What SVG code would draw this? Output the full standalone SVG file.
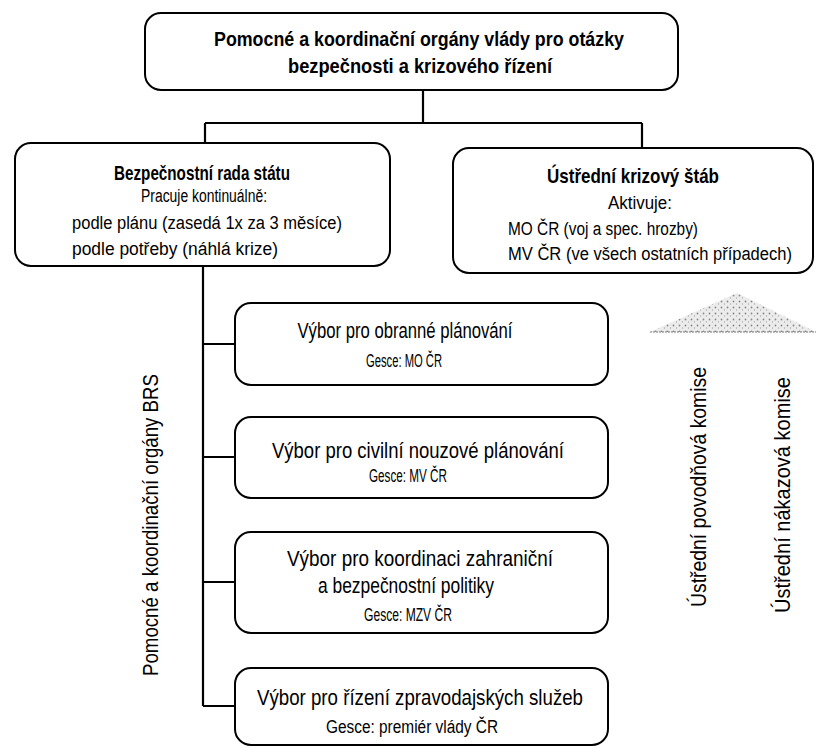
<svg xmlns="http://www.w3.org/2000/svg" width="816" height="748" viewBox="0 0 816 748">
  <defs>
    <pattern id="stipple" width="6" height="6" patternUnits="userSpaceOnUse">
      <rect width="6" height="6" fill="#ececec"/>
      <circle cx="1.5" cy="1.5" r="0.9" fill="#888"/>
      <circle cx="4.5" cy="4" r="0.7" fill="#aaa"/>
    </pattern>
  </defs>
  <style>
    .box { fill: #ffffff; stroke: #000000; stroke-width: 2; }
    .conn { fill: none; stroke: #000000; stroke-width: 2.2; }
    .t { font-family: "Liberation Sans", Arial, sans-serif; fill: #000000; }
    .b { font-weight: bold; font-size: 21px; }
    .r { font-size: 18px; }
    .big { font-size: 22px; }
    .s { font-size: 18px; }
    .c { text-anchor: middle; }
  </style>
  <rect width="816" height="748" fill="#ffffff"/>

  <g id="connectors">
    <path class="conn" d="M423,90 V123 M205,123 H642 M205,123 V143 M642,123 V148"/>
    <path class="conn" d="M203,266 V706 M203,344 H235 M203,457 H235 M203,582 H235 M203,706 H235"/>
  </g>

  <g id="node-top">
    <rect class="box" x="145" y="13" width="533" height="77" rx="16"/>
    <text class="t b c" x="419" y="46" textLength="410" lengthAdjust="spacingAndGlyphs">Pomocné a koordinační orgány vlády pro otázky</text>
    <text class="t b c" x="420" y="73" textLength="264" lengthAdjust="spacingAndGlyphs">bezpečnosti a krizového řízení</text>
  </g>

  <g id="node-brs">
    <rect class="box" x="15" y="143" width="375" height="123" rx="16"/>
    <text class="t b c" x="202" y="180" textLength="176" lengthAdjust="spacingAndGlyphs">Bezpečnostní rada státu</text>
    <text class="t r c" x="204" y="202" textLength="126" lengthAdjust="spacingAndGlyphs">Pracuje kontinuálně:</text>
    <text class="t r" x="72" y="229" textLength="270" lengthAdjust="spacingAndGlyphs">podle plánu (zasedá 1x za 3 měsíce)</text>
    <text class="t r" x="72" y="255" textLength="206" lengthAdjust="spacingAndGlyphs">podle potřeby (náhlá krize)</text>
  </g>

  <g id="node-uks">
    <rect class="box" x="453" y="148" width="360" height="125" rx="16"/>
    <text class="t b c" x="633" y="183" textLength="172" lengthAdjust="spacingAndGlyphs">Ústřední krizový štáb</text>
    <text class="t r c" x="640" y="209" textLength="64" lengthAdjust="spacingAndGlyphs">Aktivuje:</text>
    <text class="t r" x="508" y="235" textLength="190" lengthAdjust="spacingAndGlyphs">MO ČR (voj a spec. hrozby)</text>
    <text class="t r" x="508" y="260" textLength="284" lengthAdjust="spacingAndGlyphs">MV ČR (ve všech ostatních případech)</text>
  </g>

  <g id="node-vop">
    <rect class="box" x="235" y="303" width="373" height="82" rx="16"/>
    <text class="t big c" x="405" y="338" textLength="215" lengthAdjust="spacingAndGlyphs">Výbor pro obranné plánování</text>
    <text class="t s c" x="404" y="367" textLength="76" lengthAdjust="spacingAndGlyphs">Gesce: MO ČR</text>
  </g>

  <g id="node-vcnp">
    <rect class="box" x="235" y="417" width="373" height="81" rx="16"/>
    <text class="t big c" x="418" y="458" textLength="292" lengthAdjust="spacingAndGlyphs">Výbor pro civilní nouzové plánování</text>
    <text class="t s c" x="408" y="482" textLength="78" lengthAdjust="spacingAndGlyphs">Gesce: MV ČR</text>
  </g>

  <g id="node-vkzbp">
    <rect class="box" x="235" y="532" width="373" height="101" rx="16"/>
    <text class="t big c" x="420" y="566" textLength="266" lengthAdjust="spacingAndGlyphs">Výbor pro koordinaci zahraniční</text>
    <text class="t big c" x="406" y="593" textLength="176" lengthAdjust="spacingAndGlyphs">a bezpečnostní politiky</text>
    <text class="t s c" x="408" y="621" textLength="88" lengthAdjust="spacingAndGlyphs">Gesce: MZV ČR</text>
  </g>

  <g id="node-vrzs">
    <rect class="box" x="235" y="668" width="373" height="77" rx="16"/>
    <text class="t big c" x="420" y="705" textLength="326" lengthAdjust="spacingAndGlyphs">Výbor pro řízení zpravodajských služeb</text>
    <text class="t s c" x="412" y="733" textLength="172" lengthAdjust="spacingAndGlyphs">Gesce: premiér vlády ČR</text>
  </g>

  <g id="label-brs">
    <text class="t big c" transform="translate(158,525) rotate(-90)" textLength="302" lengthAdjust="spacingAndGlyphs">Pomocné a koordinační orgány BRS</text>
  </g>

  <g id="arrow-komise">
    <polygon points="737,293 650,332 816,332" fill="url(#stipple)"/>
    <line x1="650" y1="332" x2="816" y2="332" stroke="#777" stroke-width="1" stroke-dasharray="2 1"/>
    <text class="t big c" transform="translate(706,487) rotate(-90)" textLength="240" lengthAdjust="spacingAndGlyphs">Ústřední povodňová komise</text>
    <text class="t big c" transform="translate(790,495) rotate(-90)" textLength="236" lengthAdjust="spacingAndGlyphs">Ústřední nákazová komise</text>
  </g>
</svg>
